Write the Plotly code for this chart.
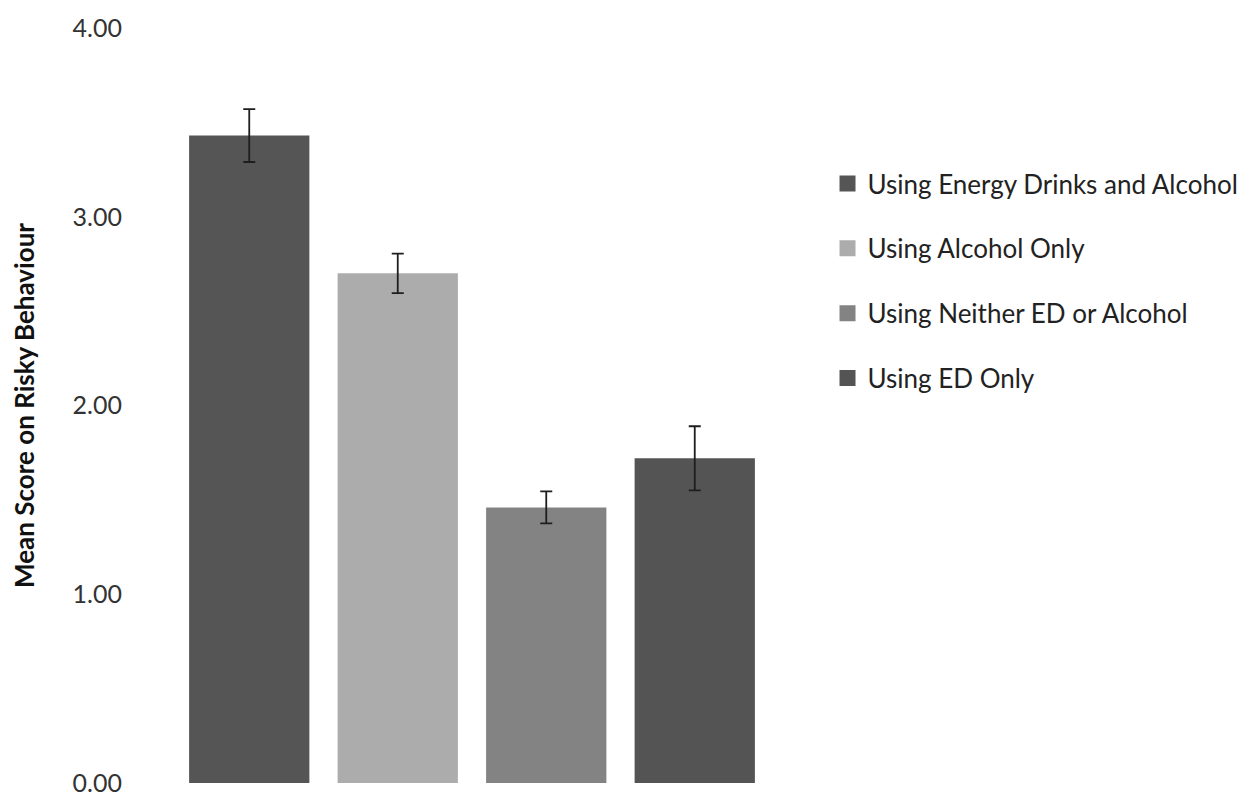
import plotly.graph_objects as go

groups = ["Using Energy Drinks and Alcohol", "Using Alcohol Only",
          "Using Neither ED or Alcohol", "Using ED Only"]
means = [3.43, 2.70, 1.46, 1.72]
errors = [0.14, 0.105, 0.085, 0.17]
colors = ["#555555", "#acacac", "#838383", "#545454"]
yticks = [0, 1, 2, 3, 4]

FONT = "Lato"

fig = go.Figure()
for g, m, e, c in zip(groups, means, errors, colors):
    fig.add_trace(go.Bar(
        x=[g], y=[m], name=g, marker=dict(color=c, line=dict(width=0)),
        error_y=dict(type="data", array=[e], color="#1e1e1e", thickness=1.8, width=6),
        showlegend=False, legendgroup=g,
    ))
    fig.add_trace(go.Scatter(
        x=[None], y=[None], mode="markers", name=g, legendgroup=g,
        marker=dict(symbol="square", size=18, color=c),
    ))

fig.update_layout(
    width=1256, height=809,
    margin=dict(l=175, r=482, t=22, b=16),
    paper_bgcolor="white", plot_bgcolor="white",
    barmode="overlay", bargap=0.19,
    font=dict(family=FONT, color="#333333"),
    xaxis=dict(showticklabels=False, showgrid=False, zeroline=False, showline=False,
               categoryorder="array", categoryarray=groups),
    yaxis=dict(range=[0, 4], tickvals=yticks, tickformat=".2f",
               showgrid=False, zeroline=False, showline=False,
               tickfont=dict(family=FONT, size=25, color="#333333"),
               ticklabelstandoff=52,
               title=dict(text="<b>Mean Score on Risky Behaviour</b>",
                          font=dict(family=FONT, size=26, color="#111111"),
                          standoff=30)),
    legend=dict(x=1.0985, xanchor="left", y=0.825, yanchor="top",
                font=dict(family=FONT, size=26, color="#222222"),
                tracegroupgap=28, bgcolor="rgba(0,0,0,0)"),
)

fig.write_html("out.html")
